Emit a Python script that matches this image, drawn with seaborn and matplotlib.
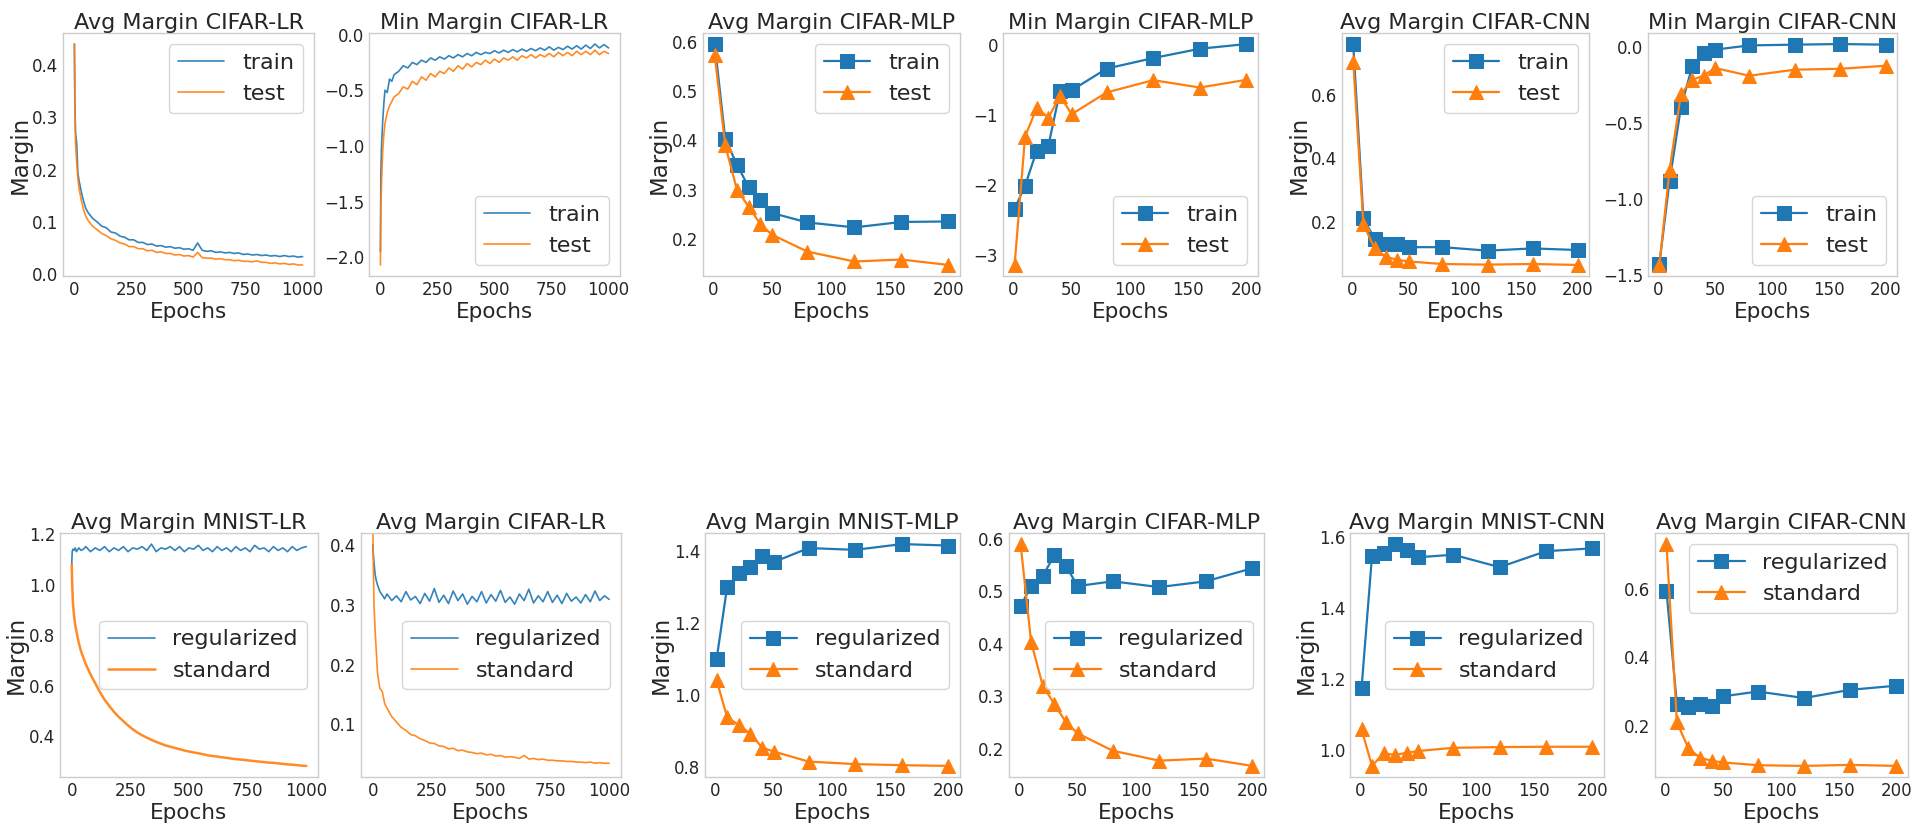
import matplotlib
matplotlib.use("Agg")
import matplotlib.pyplot as plt
from matplotlib.ticker import MultipleLocator
import seaborn as sns

sns.set_style("ticks", {"axes.edgecolor": ".8"})
plt.rcParams["font.family"] = ["DejaVu Sans"]

BLUE = "#1f77b4"
ORANGE = "#ff7f0e"

# ---- data: logistic regression runs (1000 epochs) ----
E_LR = [0, 2, 5, 10, 15, 20, 30, 40, 50,
        60, 80, 100, 120, 140, 160, 180, 200, 220, 240,
        260, 280, 300, 320, 340, 360, 380, 400, 420, 440,
        460, 480, 500, 520, 540, 560, 580, 600, 620, 640,
        660, 680, 700, 720, 740, 760, 780, 800, 820, 840,
        860, 880, 900, 920, 940, 960, 980, 1000]

avg_cifar_lr_train = [0.440, 0.330, 0.270, 0.250, 0.195, 0.180, 0.158, 0.140, 0.126,
                      0.118, 0.107, 0.100, 0.092, 0.089, 0.081, 0.079, 0.073, 0.071, 0.066,
                      0.066, 0.061, 0.061, 0.057, 0.058, 0.054, 0.055, 0.052, 0.053, 0.050,
                      0.051, 0.048, 0.049, 0.046, 0.060, 0.046, 0.044, 0.045, 0.042, 0.043,
                      0.041, 0.042, 0.040, 0.041, 0.038, 0.039, 0.037, 0.038, 0.036, 0.037,
                      0.035, 0.036, 0.034, 0.036, 0.034, 0.035, 0.033, 0.034]
avg_cifar_lr_test = [0.440, 0.320, 0.250, 0.215, 0.185, 0.165, 0.142, 0.124, 0.111,
                     0.103, 0.092, 0.085, 0.078, 0.074, 0.068, 0.065, 0.060, 0.058, 0.053,
                     0.053, 0.049, 0.049, 0.045, 0.046, 0.042, 0.043, 0.040, 0.040, 0.037,
                     0.038, 0.035, 0.036, 0.033, 0.042, 0.032, 0.031, 0.031, 0.029, 0.030,
                     0.028, 0.028, 0.026, 0.027, 0.025, 0.025, 0.024, 0.026, 0.023, 0.023,
                     0.021, 0.022, 0.020, 0.021, 0.019, 0.020, 0.018, 0.018]

min_cifar_lr_train = [-1.95, -1.25, -1.00, -0.78, -0.62, -0.50, -0.52, -0.40, -0.42,
                      -0.36, -0.33, -0.28, -0.30, -0.25, -0.27, -0.23, -0.25, -0.21, -0.23,
                      -0.20, -0.22, -0.19, -0.21, -0.18, -0.20, -0.17, -0.19, -0.16, -0.18,
                      -0.16, -0.17, -0.145, -0.165, -0.14, -0.16, -0.135, -0.155, -0.13, -0.15,
                      -0.125, -0.145, -0.12, -0.14, -0.11, -0.14, -0.115, -0.135, -0.105, -0.13,
                      -0.10, -0.13, -0.095, -0.125, -0.085, -0.12, -0.09, -0.12]
min_cifar_lr_test = [-2.07, -1.55, -1.33, -1.05, -0.90, -0.80, -0.70, -0.64, -0.60,
                     -0.56, -0.53, -0.47, -0.49, -0.42, -0.45, -0.38, -0.41, -0.35, -0.38,
                     -0.33, -0.35, -0.30, -0.33, -0.28, -0.31, -0.26, -0.29, -0.25, -0.27,
                     -0.23, -0.26, -0.22, -0.25, -0.21, -0.23, -0.20, -0.23, -0.19, -0.21,
                     -0.18, -0.21, -0.18, -0.20, -0.17, -0.20, -0.16, -0.19, -0.16, -0.19,
                     -0.15, -0.18, -0.15, -0.18, -0.14, -0.18, -0.15, -0.17]

mnist_lr_reg = [1.08, 1.13, 1.14, 1.135, 1.145, 1.13, 1.145, 1.135, 1.14,
                1.15, 1.13, 1.145, 1.135, 1.15, 1.13, 1.145, 1.135, 1.15, 1.13,
                1.145, 1.14, 1.15, 1.135, 1.16, 1.13, 1.145, 1.14, 1.15, 1.135,
                1.15, 1.13, 1.145, 1.14, 1.155, 1.135, 1.145, 1.13, 1.15, 1.135,
                1.145, 1.13, 1.15, 1.135, 1.145, 1.13, 1.155, 1.14, 1.145, 1.13,
                1.15, 1.135, 1.145, 1.13, 1.15, 1.135, 1.145, 1.15]
mnist_lr_std = [1.08, 1.00, 0.93, 0.875, 0.84, 0.815, 0.77, 0.735, 0.71,
                0.685, 0.645, 0.61, 0.575, 0.545, 0.52, 0.497, 0.477, 0.46, 0.443,
                0.428, 0.415, 0.404, 0.395, 0.386, 0.378, 0.371, 0.364, 0.359, 0.354,
                0.349, 0.344, 0.340, 0.336, 0.333, 0.329, 0.325, 0.322, 0.320, 0.317,
                0.315, 0.312, 0.310, 0.308, 0.306, 0.304, 0.302, 0.300, 0.298, 0.296,
                0.295, 0.293, 0.291, 0.289, 0.288, 0.286, 0.284, 0.283]

cifar_lr_reg = [0.40, 0.385, 0.37, 0.35, 0.34, 0.333, 0.322, 0.316, 0.31,
                0.318, 0.307, 0.315, 0.305, 0.322, 0.308, 0.314, 0.302, 0.319, 0.306,
                0.327, 0.304, 0.316, 0.302, 0.323, 0.307, 0.318, 0.301, 0.314, 0.305,
                0.322, 0.303, 0.317, 0.306, 0.324, 0.304, 0.313, 0.301, 0.318, 0.307,
                0.326, 0.303, 0.315, 0.305, 0.322, 0.304, 0.316, 0.302, 0.319, 0.306,
                0.313, 0.303, 0.317, 0.305, 0.323, 0.307, 0.315, 0.309]
cifar_lr_std = [0.44, 0.37, 0.30, 0.255, 0.22, 0.185, 0.16, 0.155, 0.135,
                0.127, 0.113, 0.104, 0.095, 0.090, 0.083, 0.081, 0.076, 0.073, 0.069,
                0.068, 0.064, 0.063, 0.059, 0.060, 0.056, 0.057, 0.054, 0.053, 0.051,
                0.052, 0.049, 0.050, 0.047, 0.048, 0.045, 0.046, 0.045, 0.043, 0.048,
                0.042, 0.043, 0.041, 0.042, 0.040, 0.040, 0.039, 0.039, 0.038, 0.038,
                0.037, 0.037, 0.036, 0.037, 0.035, 0.036, 0.035, 0.035]

# ---- data: MLP / CNN runs (200 epochs) ----
E_NN = [1, 10, 20, 30, 40, 50, 80, 120, 160, 200]

avg_cifar_mlp_train = [0.595, 0.403, 0.351, 0.305, 0.279, 0.253, 0.234, 0.224, 0.235, 0.236]
avg_cifar_mlp_test = [0.573, 0.390, 0.300, 0.266, 0.230, 0.209, 0.175, 0.155, 0.159, 0.148]
min_cifar_mlp_train = [-2.34, -2.01, -1.51, -1.44, -0.66, -0.65, -0.34, -0.19, -0.057, 0.01]
min_cifar_mlp_test = [-3.14, -1.31, -0.90, -1.04, -0.73, -0.99, -0.68, -0.505, -0.61, -0.50]
avg_cifar_cnn_train = [0.759, 0.211, 0.146, 0.130, 0.130, 0.120, 0.120, 0.109, 0.116, 0.111]
avg_cifar_cnn_test = [0.704, 0.192, 0.116, 0.090, 0.080, 0.075, 0.067, 0.065, 0.067, 0.064]
min_cifar_cnn_train = [-1.43, -0.88, -0.394, -0.125, -0.037, -0.015, 0.013, 0.018, 0.022, 0.018]
min_cifar_cnn_test = [-1.434, -0.807, -0.308, -0.213, -0.187, -0.136, -0.187, -0.147, -0.141, -0.121]

mnist_mlp_reg = [1.098, 1.298, 1.337, 1.355, 1.386, 1.368, 1.407, 1.402, 1.418, 1.414]
mnist_mlp_std = [1.040, 0.938, 0.915, 0.892, 0.853, 0.842, 0.814, 0.807, 0.804, 0.802]
cifar_mlp_reg = [0.471, 0.511, 0.529, 0.569, 0.548, 0.510, 0.519, 0.508, 0.519, 0.544]
cifar_mlp_std = [0.590, 0.404, 0.320, 0.285, 0.250, 0.229, 0.196, 0.177, 0.181, 0.167]
mnist_cnn_reg = [1.175, 1.547, 1.555, 1.581, 1.565, 1.544, 1.551, 1.516, 1.561, 1.569]
mnist_cnn_std = [1.059, 0.956, 0.991, 0.987, 0.993, 0.998, 1.007, 1.009, 1.010, 1.010]
cifar_cnn_reg = [0.592, 0.263, 0.254, 0.265, 0.259, 0.286, 0.300, 0.281, 0.305, 0.317]
cifar_cnn_std = [0.730, 0.210, 0.134, 0.107, 0.098, 0.093, 0.085, 0.083, 0.086, 0.083]

W, H = 1915, 824
fig = plt.figure(figsize=(W / 100, H / 100), dpi=100)


def make_axes(x0, x1, y0, y1):
    return fig.add_axes([x0 / W, 1 - y1 / H, (x1 - x0) / W, (y1 - y0) / H])


def style_axes(ax, title, xticks, ystep, ylabel, legend_loc):
    ax.set_title(title, fontsize=16, pad=1.5)
    ax.set_xlabel("Epochs", fontsize=15.5, labelpad=2)
    ax.set_xticks(xticks)
    ax.yaxis.set_major_locator(MultipleLocator(ystep))
    if ylabel:
        ax.set_ylabel("Margin", fontsize=16.5)
        ax.yaxis.set_label_coords(-0.125, 0.5)
    else:
        ax.set_ylabel("")
    ax.tick_params(labelsize=12, length=0, pad=3.5)
    for s in ax.spines.values():
        s.set_visible(True)
        s.set_linewidth(1.0)
    ax.legend(loc=legend_loc, fontsize=16, frameon=True, handlelength=2.1)


def noisy_panel(ax, y1, y2, labels, title, ystep, ylabel, legend_loc, lw=(1.2, 1.2)):
    sns.lineplot(x=E_LR, y=y1, ax=ax, color=BLUE, linewidth=lw[0], alpha=0.9, label=labels[0])
    sns.lineplot(x=E_LR, y=y2, ax=ax, color=ORANGE, linewidth=lw[1], alpha=0.9, label=labels[1])
    style_axes(ax, title, [0, 250, 500, 750, 1000], ystep, ylabel, legend_loc)


def marker_panel(ax, y1, y2, labels, title, ystep, ylabel, legend_loc):
    sns.lineplot(x=E_NN, y=y1, ax=ax, color=BLUE, linewidth=1.6, marker="s",
                 markersize=9.5, markeredgecolor=BLUE, label=labels[0])
    sns.lineplot(x=E_NN, y=y2, ax=ax, color=ORANGE, linewidth=1.6, marker="^",
                 markersize=9.5, markeredgecolor=ORANGE, label=labels[1])
    style_axes(ax, title, [0, 50, 100, 150, 200], ystep, ylabel, legend_loc)


TT = ("train", "test")
RS = ("regularized", "standard")

# top row
ax = make_axes(63, 314, 33, 276)
noisy_panel(ax, avg_cifar_lr_train, avg_cifar_lr_test, TT, "Avg Margin CIFAR-LR", 0.1, True, "upper right")
ax = make_axes(369, 620, 33, 276)
noisy_panel(ax, min_cifar_lr_train, min_cifar_lr_test, TT, "Min Margin CIFAR-LR", 0.5, False, "lower right")
ax = make_axes(703, 960, 33, 276)
marker_panel(ax, avg_cifar_mlp_train, avg_cifar_mlp_test, TT, "Avg Margin CIFAR-MLP", 0.1, True, "upper right")
ax = make_axes(1003, 1258, 33, 276)
marker_panel(ax, min_cifar_mlp_train, min_cifar_mlp_test, TT, "Min Margin CIFAR-MLP", 1.0, False, "lower right")
ax = make_axes(1342, 1589, 33, 276)
marker_panel(ax, avg_cifar_cnn_train, avg_cifar_cnn_test, TT, "Avg Margin CIFAR-CNN", 0.2, True, "upper right")
ax = make_axes(1648, 1897, 33, 276)
marker_panel(ax, min_cifar_cnn_train, min_cifar_cnn_test, TT, "Min Margin CIFAR-CNN", 0.5, False, "lower right")

# bottom row
ax = make_axes(60, 318, 533, 777)
noisy_panel(ax, mnist_lr_reg, mnist_lr_std, RS, "Avg Margin MNIST-LR", 0.2, True, "center right", lw=(1.2, 1.8))
ax = make_axes(361, 621, 533, 777)
noisy_panel(ax, cifar_lr_reg, cifar_lr_std, RS, "Avg Margin CIFAR-LR", 0.1, False, "center right")
ax.set_ylim(0.012, 0.42)
ax = make_axes(705, 960, 533, 777)
marker_panel(ax, mnist_mlp_reg, mnist_mlp_std, RS, "Avg Margin MNIST-MLP", 0.2, True, "center right")
ax = make_axes(1009, 1264, 533, 777)
marker_panel(ax, cifar_mlp_reg, cifar_mlp_std, RS, "Avg Margin CIFAR-MLP", 0.1, False, "center right")
ax = make_axes(1350, 1604, 533, 777)
marker_panel(ax, mnist_cnn_reg, mnist_cnn_std, RS, "Avg Margin MNIST-CNN", 0.2, True, "center right")
ax = make_axes(1655, 1908, 533, 777)
marker_panel(ax, cifar_cnn_reg, cifar_cnn_std, RS, "Avg Margin CIFAR-CNN", 0.2, False, "upper right")

fig.savefig("out.png", dpi=100)
